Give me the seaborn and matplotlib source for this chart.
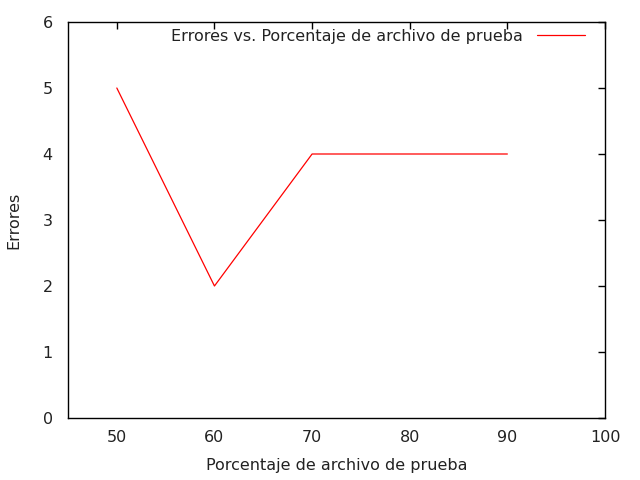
import matplotlib
matplotlib.use("Agg")
import matplotlib.pyplot as plt
import seaborn as sns
import pandas as pd

porcentaje = [50, 60, 70, 80, 90]
errores = [5, 2, 4, 4, 4]
x_ticks = [50, 60, 70, 80, 90, 100]
y_ticks = [0, 1, 2, 3, 4, 5, 6]

sns.set_style("white")
plt.rcParams['font.family'] = ['DejaVu Sans']
fs = 11.5

df = pd.DataFrame({"x": porcentaje, "y": errores})

fig = plt.figure(figsize=(6.4, 4.8), dpi=100)
ax = fig.add_axes([68/640, 62/480, 537/640, 396/480])
sns.lineplot(data=df, x="x", y="y", ax=ax, color="#ff0000", linewidth=0.9,
             label="Errores vs. Porcentaje de archivo de prueba")
ax.set_xlim(45, 100)
ax.set_ylim(0, 6)
ax.set_xticks(x_ticks)
ax.set_yticks(y_ticks)
ax.tick_params(direction="in", length=5, width=1, top=True, right=True,
               labelsize=fs, colors="black", labelcolor="#222222", pad=9)
ax.tick_params(axis="y", pad=11)
for s in ax.spines.values():
    s.set_visible(True)
    s.set_color("black")
    s.set_linewidth(1)
ax.set_xlabel("Porcentaje de archivo de prueba", fontsize=fs, labelpad=9,
              color="#222222")
ax.set_ylabel("Errores", fontsize=fs, labelpad=15, color="#222222")
leg = ax.legend(loc="upper right", frameon=False, markerfirst=False,
                handlelength=3.0, handletextpad=0.9, fontsize=fs,
                borderaxespad=0, borderpad=0,
                bbox_to_anchor=(585/640, (480 - 29)/480),
                bbox_transform=fig.transFigure)
for t in leg.get_texts():
    t.set_color("#222222")
fig.savefig("out.png", dpi=100)
